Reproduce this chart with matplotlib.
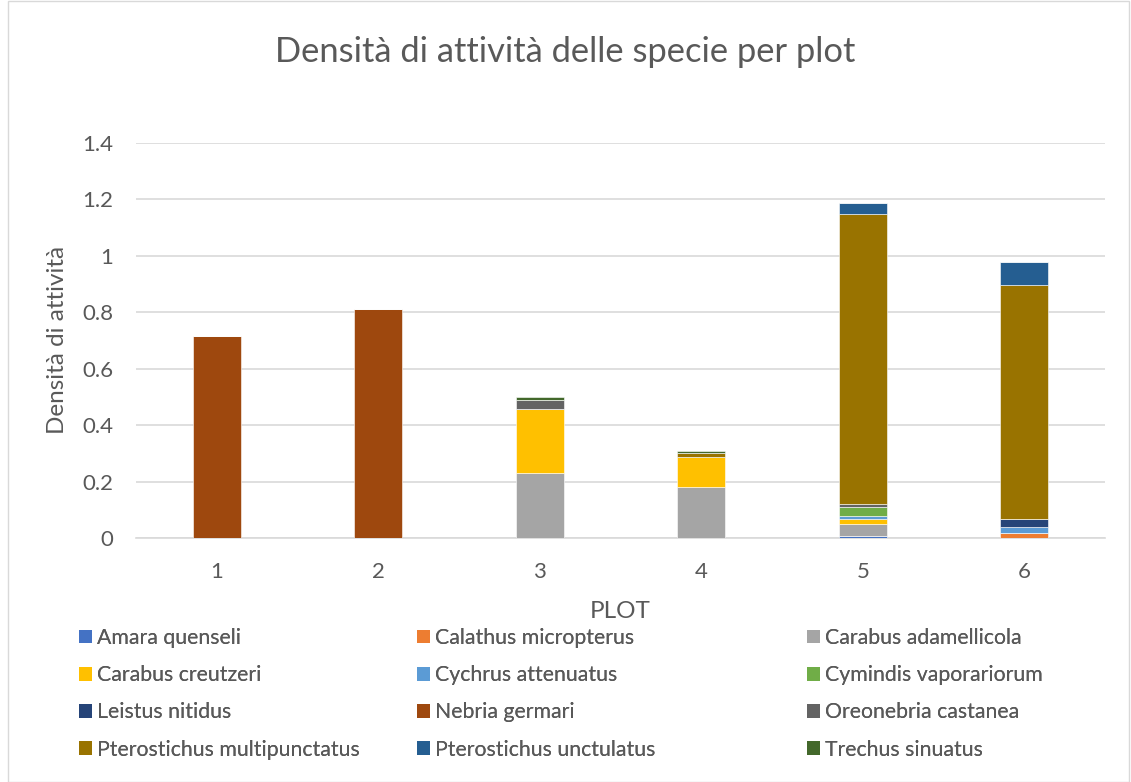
import matplotlib
matplotlib.use("Agg")
import matplotlib.pyplot as plt
from matplotlib.patches import Rectangle
import numpy as np

plt.rcParams['font.family'] = ['Lato', 'DejaVu Sans']

plots = ["1", "2", "3", "4", "5", "6"]
species = ["Amara quenseli", "Calathus micropterus", "Carabus adamellicola",
           "Carabus creutzeri", "Cychrus attenuatus", "Cymindis vaporariorum",
           "Leistus nitidus", "Nebria germari", "Oreonebria castanea",
           "Pterostichus multipunctatus", "Pterostichus unctulatus", "Trechus sinuatus"]
colors = ["#4472C4", "#ED7D31", "#A5A5A5", "#FFC000", "#5B9BD5", "#70AD47",
          "#264478", "#9E480E", "#636363", "#997300", "#255E91", "#43682B"]

amara_quenseli       = [0, 0, 0, 0, 0.007, 0]
calathus_micropterus = [0, 0, 0, 0, 0, 0.016]
carabus_adamellicola = [0, 0, 0.23, 0.18, 0.043, 0]
carabus_creutzeri    = [0, 0, 0.227, 0.108, 0.017, 0]
cychrus_attenuatus   = [0, 0, 0, 0, 0.011, 0.022]
cymindis_vaporariorum = [0, 0, 0, 0, 0.031, 0]
leistus_nitidus      = [0, 0, 0, 0, 0, 0.03]
nebria_germari       = [0.715, 0.81, 0, 0, 0, 0]
oreonebria_castanea  = [0, 0, 0.032, 0, 0.01, 0]
pterostichus_multipunctatus = [0, 0, 0, 0.012, 1.03, 0.828]
pterostichus_unctulatus = [0, 0, 0, 0, 0.039, 0.081]
trechus_sinuatus     = [0, 0, 0.01, 0.008, 0, 0]

series = [amara_quenseli, calathus_micropterus, carabus_adamellicola, carabus_creutzeri,
          cychrus_attenuatus, cymindis_vaporariorum, leistus_nitidus, nebria_germari,
          oreonebria_castanea, pterostichus_multipunctatus, pterostichus_unctulatus,
          trechus_sinuatus]

W, H = 1131, 782
txt = "#595959"
fig = plt.figure(figsize=(W / 100, H / 100), dpi=100)
fig.patches.append(Rectangle((8 / W, 0.0), (W - 10) / W, 0.999, transform=fig.transFigure,
                             fill=False, edgecolor="#D9D9D9", lw=1))
ax = fig.add_axes([136 / W, 1 - 538 / H, (1105 - 136) / W, (538 - 143) / H])

x = np.arange(len(plots))
bottom = np.zeros(len(plots))
handles = []
for name, vals, c in zip(species, series, colors):
    v = np.array(vals)
    ax.bar(x, v, width=0.30, bottom=bottom, color=c, edgecolor="white", linewidth=0.4, zorder=3)
    bottom += v
    handles.append(Rectangle((0, 0), 1, 1, facecolor=c, edgecolor="none"))

ax.set_xlim(-0.5, len(plots) - 0.5)
ax.set_ylim(0, 1.4)
ax.set_yticks(np.arange(0, 1.41, 0.2))
ax.set_yticklabels(["0", "0.2", "0.4", "0.6", "0.8", "1", "1.2", "1.4"])
ax.set_xticks(x)
ax.set_xticklabels(plots)
ax.yaxis.grid(True, color="#D9D9D9", lw=1.2, zorder=0)
ax.set_axisbelow(True)
for s in ["top", "right", "left"]:
    ax.spines[s].set_visible(False)
ax.spines["bottom"].set_color("#D9D9D9")
ax.spines["bottom"].set_linewidth(1.2)
ax.tick_params(axis="both", length=0, labelsize=16, labelcolor=txt)
ax.tick_params(axis="y", pad=16.5)
ax.tick_params(axis="x", pad=17)

fig.text(58 / W, 1 - 340 / H, "Densità di attività", rotation=90, ha="center", va="center",
         fontsize=17.5, color=txt)
fig.text((136 + 1105) / 2 / W, 1 - 612 / H, "PLOT", ha="center", va="center",
         fontsize=17.5, color=txt)
fig.text(0.5, 1 - 52 / H, "Densità di attività delle specie per plot", ha="center",
         va="center", fontsize=24.8, color=txt)

ncol = 3
nrow = 4
col_x = [79, 417, 807]
for c in range(ncol):
    idx = [r * ncol + c for r in range(nrow)]
    leg = fig.legend([handles[i] for i in idx], [species[i] for i in idx], ncol=1,
                     loc="upper left", bbox_to_anchor=(col_x[c] / W, 1 - 628 / H),
                     frameon=False, fontsize=15.3, labelcolor=txt, borderpad=0,
                     borderaxespad=0, handlelength=0.61, handleheight=0.61,
                     handletextpad=0.25, labelspacing=0.81)
    fig.add_artist(leg)
fig.savefig("out.png", dpi=100)
